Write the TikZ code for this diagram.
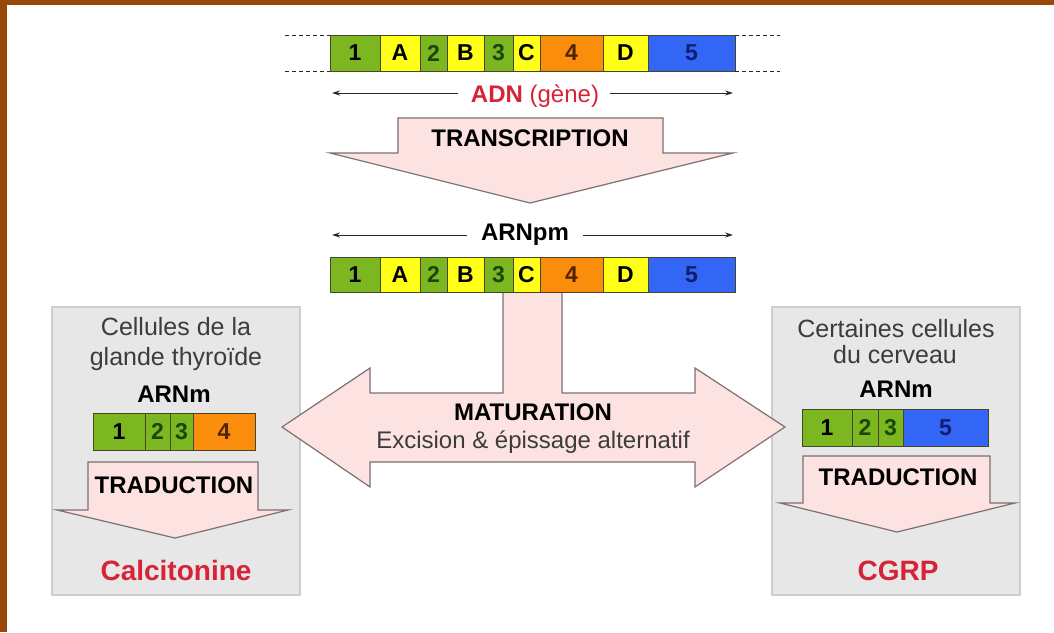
\documentclass[tikz,border=0pt]{standalone}
\usepackage{fontspec}
\setmainfont{Liberation Sans}
\usetikzlibrary{arrows.meta}
\definecolor{brownframe}{RGB}{152,72,8}
\definecolor{exgreen}{RGB}{124,182,32}
\definecolor{exyellow}{RGB}{255,255,24}
\definecolor{exorange}{RGB}{250,142,12}
\definecolor{exblue}{RGB}{52,102,245}
\definecolor{segline}{RGB}{70,70,40}
\definecolor{pinkfill}{RGB}{253,226,226}
\definecolor{arrline}{RGB}{125,112,112}
\definecolor{boxfill}{RGB}{231,231,231}
\definecolor{boxline}{RGB}{205,205,205}
\definecolor{redtxt}{RGB}{215,35,55}
\definecolor{darkgreen}{RGB}{25,70,10}
\definecolor{darkbrown}{RGB}{80,35,0}
\definecolor{navyblue}{RGB}{15,30,110}
\definecolor{graytxt}{RGB}{60,60,60}
\definecolor{linegray}{RGB}{40,40,40}
\newcommand\fsz[1]{\fontsize{#1}{#1}\selectfont}
\newcommand\gseg[8]{\node[segbox, fill=#6, text=#8, minimum width={(#3-#2)*1pt}, minimum height={(#5-#4)*1pt}] (#1) at ({(#2+#3)/2},{(#4+#5)/2}) {#7};}
\begin{document}
\begin{tikzpicture}[x=1pt,y=-1pt,
  segbox/.style={draw=segline, line width=0.8pt, inner sep=0pt, outer sep=0pt, font=\bfseries\fsz{23}},
  bigarrow/.style={fill=pinkfill, draw=arrline, line width=1.2pt, line join=miter},
  cellbox/.style={fill=boxfill, draw=boxline, line width=1.5pt},
  spanline/.style={draw=linegray, line width=1pt, -{Stealth[length=8pt,width=5pt]}},
  dashline/.style={draw=linegray, line width=0.9pt, dash pattern=on 4pt off 3pt},
  lab/.style={anchor=base, inner sep=0pt},
  boldlab/.style={lab, font=\bfseries\fsz{24}},
  celllab/.style={lab, font=\fsz{25}, text=graytxt},
  protlab/.style={lab, font=\bfseries\fsz{28}, text=redtxt}]
% background and frame
\fill[white] (0,0) rectangle (1054,632);
\useasboundingbox (0,0) rectangle (1054,632);
\fill[brownframe] (0,0) rectangle (1054,5);
\fill[brownframe] (0,0) rectangle (7,632);

% ----- DNA bar -----
\gseg{t1}{330}{380}{35}{71}{exgreen}{1}{black}
\gseg{tA}{380}{420}{35}{71}{exyellow}{A}{black}
\gseg{t2}{420}{447}{35}{71}{exgreen}{2}{darkgreen}
\gseg{tB}{447}{484}{35}{71}{exyellow}{B}{black}
\gseg{t3}{484}{513}{35}{71}{exgreen}{3}{darkgreen}
\gseg{tC}{513}{540}{35}{71}{exyellow}{C}{black}
\gseg{t4}{540}{603}{35}{71}{exorange}{4}{darkbrown}
\gseg{tD}{603}{648}{35}{71}{exyellow}{D}{black}
\gseg{t5}{648}{735}{35}{71}{exblue}{5}{navyblue}
\coordinate (dtl) at (285,35); \coordinate (dbl) at (285,71);
\coordinate (dtr) at (780,35); \coordinate (dbr) at (780,71);
\draw[dashline] (dtl) -- (t1.north west);
\draw[dashline] (dbl) -- (t1.south west);
\draw[dashline] (t5.north east) -- (dtr);
\draw[dashline] (t5.south east) -- (dbr);

% ADN span
\node[lab, font=\fsz{24}, text=redtxt] (adn) at (535,102) {\textbf{ADN} (gène)};
\coordinate (a0) at (332,93); \coordinate (a1) at (458,93);
\coordinate (a2) at (610,93); \coordinate (a3) at (733,93);
\draw[spanline] (a1) -- (a0);
\draw[spanline] (a2) -- (a3);

% TRANSCRIPTION arrow
\draw[bigarrow] (398,118) -- (663,118) -- (663,153) -- (733,153) -- (530,203)
  -- (330,153) -- (398,153) -- cycle;
\node[boldlab] (transcr) at (530,146) {TRANSCRIPTION};

% ARNpm span
\node[boldlab] (arnpm) at (525,240) {ARNpm};
\coordinate (b0) at (332,235); \coordinate (b1) at (467,235);
\coordinate (b2) at (583,235); \coordinate (b3) at (733,235);
\draw[spanline] (b1) -- (b0);
\draw[spanline] (b2) -- (b3);

% ----- cell boxes -----
\draw[cellbox] (52,307) rectangle (300,595);
\draw[cellbox] (772,307) rectangle (1020,595);

% MATURATION arrow
\draw[bigarrow] (503,292) -- (562,292) -- (562,393) -- (695,393) -- (695,368)
  -- (785,427) -- (695,487) -- (695,462) -- (370,462) -- (370,487) -- (282,427)
  -- (370,368) -- (370,393) -- (503,393) -- cycle;

% pre-mRNA bar
\gseg{p1}{330}{380}{257}{292}{exgreen}{1}{black}
\gseg{pA}{380}{420}{257}{292}{exyellow}{A}{black}
\gseg{p2}{420}{447}{257}{292}{exgreen}{2}{darkgreen}
\gseg{pB}{447}{484}{257}{292}{exyellow}{B}{black}
\gseg{p3}{484}{513}{257}{292}{exgreen}{3}{darkgreen}
\gseg{pC}{513}{540}{257}{292}{exyellow}{C}{black}
\gseg{p4}{540}{603}{257}{292}{exorange}{4}{darkbrown}
\gseg{pD}{603}{648}{257}{292}{exyellow}{D}{black}
\gseg{p5}{648}{735}{257}{292}{exblue}{5}{navyblue}

\node[boldlab] (matur) at (533,420) {MATURATION};
\node[lab, font=\fsz{24}, text=graytxt] (excis) at (533,448) {Excision \& épissage alternatif};

% ----- left box -----
\node[celllab] (lc1) at (176,335) {Cellules de la};
\node[celllab] (lc2) at (176,365) {glande thyroïde};
\node[boldlab] (larn) at (174,402) {ARNm};
\gseg{l1}{93}{145}{413}{450}{exgreen}{1}{black}
\gseg{l2}{145}{170}{413}{450}{exgreen}{2}{darkgreen}
\gseg{l3}{170}{193}{413}{450}{exgreen}{3}{darkgreen}
\gseg{l4}{193}{255}{413}{450}{exorange}{4}{darkbrown}
\draw[bigarrow] (88,462) -- (258,462) -- (258,510) -- (288,510) -- (175,538)
  -- (57,510) -- (88,510) -- cycle;
\node[boldlab] (ltrad) at (174,493) {TRADUCTION};
\node[protlab] (lcalc) at (176,580) {Calcitonine};

% ----- right box -----
\node[celllab] (rc1) at (896,337) {Certaines cellules};
\node[celllab] (rc2) at (895,363) {du cerveau};
\node[boldlab] (rarn) at (896,397) {ARNm};
\gseg{r1}{802}{852}{409}{446}{exgreen}{1}{black}
\gseg{r2}{852}{878}{409}{446}{exgreen}{2}{darkgreen}
\gseg{r3}{878}{903}{409}{446}{exgreen}{3}{darkgreen}
\gseg{r5}{903}{988}{409}{446}{exblue}{5}{navyblue}
\draw[bigarrow] (803,456) -- (990,456) -- (990,503) -- (1015,503) -- (897,532)
  -- (780,503) -- (803,503) -- cycle;
\node[boldlab] (rtrad) at (898,485) {TRADUCTION};
\node[protlab] (rcgrp) at (898,580) {CGRP};
\end{tikzpicture}
\end{document}
